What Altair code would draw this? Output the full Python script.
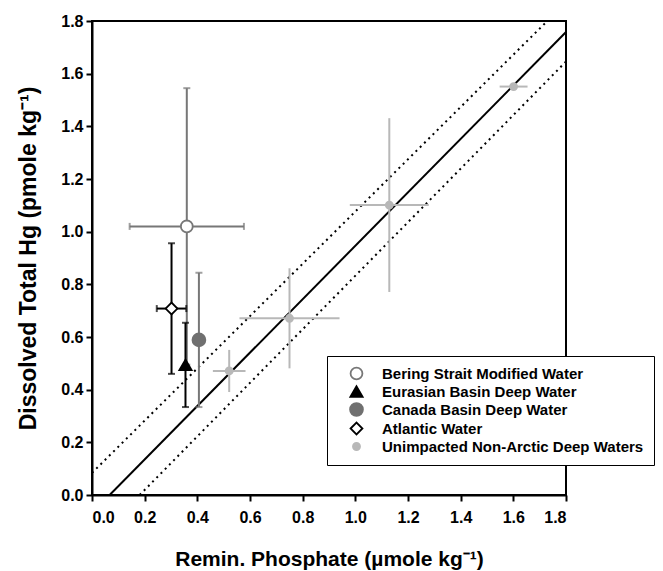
import altair as alt
import pandas as pd

# ---------------- data ----------------
series = [
    "Bering Strait Modified Water",
    "Eurasian Basin Deep Water",
    "Canada Basin Deep Water",
    "Atlantic Water",
    "Unimpacted Non-Arctic Deep Waters",
]

# one row per plotted point
pt_series = series[:4] + [series[4]] * 4
pt_x = [0.360, 0.355, 0.406, 0.302, 0.521, 0.750, 1.129, 1.601]
pt_y = [1.020, 0.494, 0.589, 0.708, 0.471, 0.671, 1.101, 1.551]
pt_xerr = [0.217, 0.0, 0.0, 0.056, 0.062, 0.190, 0.150, 0.053]
pt_yerr = [0.525, 0.160, 0.255, 0.248, 0.080, 0.190, 0.330, 0.0]
pt_caps = [True, True, True, True, False, False, False, False]

# regression line and its prediction band
fit_x = [0.067, 1.8]
fit_y = [0.0, 1.758]
upper_x = [0.0, 1.729]
upper_y = [0.084, 1.8]
lower_x = [0.181, 1.8]
lower_y = [0.0, 1.646]

ticks = [0.0, 0.2, 0.4, 0.6, 0.8, 1.0, 1.2, 1.4, 1.6, 1.8]

# ---------------- styles ----------------
shapes = ["circle", "triangle-up", "circle", "diamond", "circle"]
fills = ["white", "black", "#707070", "white", "#b8b8b8"]
strokes = ["#777777", "black", "#707070", "black", "#b8b8b8"]
err_colors = ["#777777", "black", "#777777", "black", "#b8b8b8"]
sizes = [140, 150, 165, 140, 50]

FONT = "Liberation Sans, Arial, sans-serif"

pts = pd.DataFrame({
    "series": pt_series, "x": pt_x, "y": pt_y,
    "xerr": pt_xerr, "yerr": pt_yerr, "caps": pt_caps,
})
pts["x1"] = pts.x - pts.xerr
pts["x2"] = pts.x + pts.xerr
pts["y1"] = pts.y - pts.yerr
pts["y2"] = pts.y + pts.yerr

hbars = pts[pts.xerr > 0]
vbars = pts[pts.yerr > 0]
capped = pts[pts.caps]
ch = capped[capped.xerr > 0]
cv = capped[capped.yerr > 0]
hcaps = pd.concat([
    pd.DataFrame({"series": ch.series, "x": ch.x1, "y": ch.y}),
    pd.DataFrame({"series": ch.series, "x": ch.x2, "y": ch.y}),
])
vcaps = pd.concat([
    pd.DataFrame({"series": cv.series, "x": cv.x, "y": cv.y1}),
    pd.DataFrame({"series": cv.series, "x": cv.x, "y": cv.y2}),
])

fit_df = pd.DataFrame({"x": fit_x, "y": fit_y})
band_df = pd.concat([
    pd.DataFrame({"x": upper_x, "y": upper_y, "band": "upper"}),
    pd.DataFrame({"x": lower_x, "y": lower_y, "band": "lower"}),
])

xscale = alt.Scale(domain=[0, 1.8], nice=False, zero=False)
yscale = alt.Scale(domain=[0, 1.8], nice=False, zero=False)

xaxis = alt.Axis(
    title="Remin. Phosphate (µmole kg⁻¹)", values=ticks, format=".1f",
    tickSize=6, labelPadding=8, titlePadding=23,
    labelFont=FONT, labelFontSize=16, labelFontWeight="bold",
    titleFont=FONT, titleFontSize=21, titleFontWeight="bold",
)
yaxis = alt.Axis(
    title="Dissolved Total Hg (pmole kg⁻¹)", values=ticks, format=".1f",
    tickSize=6, labelPadding=3, titlePadding=20,
    labelFont=FONT, labelFontSize=16, labelFontWeight="bold",
    titleFont=FONT, titleFontSize=23, titleFontWeight="bold",
)

X = alt.X("x:Q", scale=xscale, axis=xaxis)
Y = alt.Y("y:Q", scale=yscale, axis=yaxis)

ecol = alt.Color("series:N", scale=alt.Scale(domain=series, range=err_colors), legend=None)

fit = alt.Chart(fit_df).mark_line(color="black", strokeWidth=2, clip=True).encode(x=X, y=Y)
bands = alt.Chart(band_df).mark_line(
    color="black", strokeWidth=2, strokeDash=[2, 4], strokeCap="butt", clip=True
).encode(x="x:Q", y="y:Q", detail="band:N")

hbar = alt.Chart(hbars).mark_rule(strokeWidth=2).encode(x="x1:Q", x2="x2:Q", y="y:Q", color=ecol)
vbar = alt.Chart(vbars).mark_rule(strokeWidth=2).encode(y="y1:Q", y2="y2:Q", x="x:Q", color=ecol)
hcap = alt.Chart(hcaps).mark_tick(orient="vertical", size=7, thickness=2).encode(x="x:Q", y="y:Q", color=ecol)
vcap = alt.Chart(vcaps).mark_tick(orient="horizontal", size=7, thickness=2).encode(x="x:Q", y="y:Q", color=ecol)

legend = alt.Legend(
    title=None, orient="none", legendX=235, legendY=335,
    labelFont=FONT, labelFontSize=15, labelFontWeight="bold", labelColor="black",
    strokeColor="black", fillColor="white", padding=10,
    symbolOffset=12, labelOffset=18, rowPadding=-2, symbolStrokeWidth=1.8,
    labelLimit=400,
)

points = alt.Chart(pts).mark_point(filled=False, strokeWidth=1.8, opacity=1).encode(
    x="x:Q", y="y:Q",
    shape=alt.Shape("series:N", scale=alt.Scale(domain=series, range=shapes), legend=legend),
    fill=alt.Fill("series:N", scale=alt.Scale(domain=series, range=fills), legend=legend),
    stroke=alt.Stroke("series:N", scale=alt.Scale(domain=series, range=strokes), legend=legend),
    size=alt.Size("series:N", scale=alt.Scale(type="ordinal", domain=series, range=sizes), legend=legend),
)

chart = alt.layer(fit, bands, hbar, vbar, hcap, vcap, points).properties(
    width=474, height=474,
    autosize=alt.AutoSizeParams(type="none"),
    padding={"left": 92, "top": 21, "right": 97, "bottom": 76},
    background="white",
).resolve_scale(color="independent").configure_view(
    stroke="black", strokeWidth=2
).configure_axis(
    domainColor="black", domainWidth=2, tickColor="black", tickWidth=2,
    labelColor="black", titleColor="black", grid=False,
)

chart.save("out.html", embed_options={"renderer": "svg", "actions": False})
